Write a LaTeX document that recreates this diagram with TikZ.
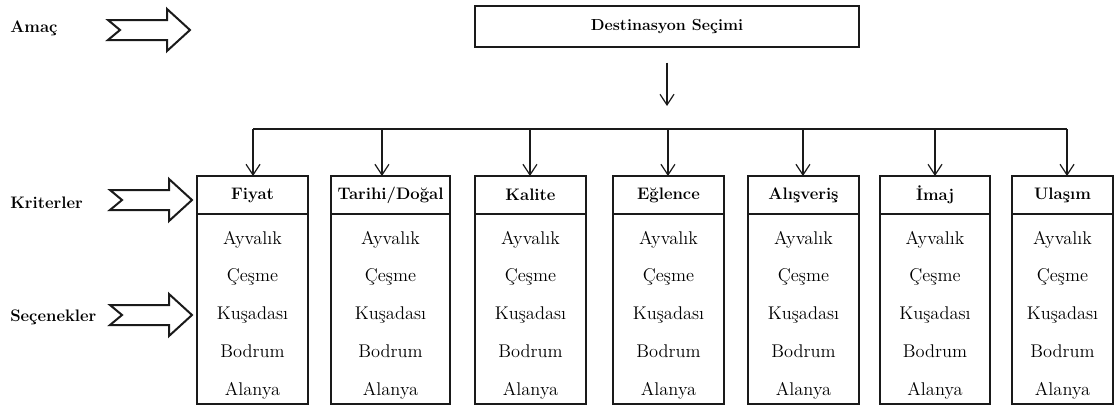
\documentclass[tikz,border=0pt]{standalone}
\usepackage{fontspec}
\usepackage{tikz}
\usetikzlibrary{arrows.meta,positioning,calc}
\definecolor{ACInk}{HTML}{000000}
\definecolor{ACLine}{HTML}{1A1A1A}
\tikzset{
  flow/.style={-{Straight Barb[length=8pt,width=10.5pt]},ACLine,line width=0.9pt},
  busline/.style={ACLine,line width=0.9pt},
  goalbox/.style={draw=ACLine,line width=1pt,minimum width=288pt,minimum height=30.75pt,
                  text=ACInk,font=\fontsize{12}{15}\selectfont\bfseries},
  critbox/.style={draw=ACLine,line width=1pt,minimum height=28.5pt,inner sep=0pt,outer sep=0pt,
                  text=ACInk,font=\fontsize{12.5}{15}\selectfont\bfseries},
  listbox/.style={draw=ACLine,line width=1pt,minimum height=142.5pt,inner sep=0pt,outer sep=0pt},
  city/.style={text=ACInk,font=\fontsize{13.8}{16}\selectfont,inner sep=0pt,
               text height=1.9ex,text depth=.5ex},
  sidelabel/.style={text=ACInk,font=\fontsize{12.5}{15}\selectfont\bfseries,anchor=west,inner sep=0pt},
  fatarrow/.pic={
    \draw[ACLine,line width=1.5pt,line join=miter,fill=white]
      (0,-10) -- (59,-10) -- (59,-21) -- (82,0) -- (59,21) -- (59,10) -- (0,10) -- (12,0) -- cycle;
  },
}
\begin{document}
\begin{tikzpicture}[x=0.75pt,y=-0.75pt]
    \useasboundingbox (0,0) rectangle (1114,405);
    % sol taraf
    \node[sidelabel] (amac) at (10,28) {Amaç};
    \node[sidelabel] (kriter) at (10,203) {Kriterler};
    \node[sidelabel] (secenek) at (10,317) {Seçenekler};
    \pic at (108,30) {fatarrow};
    \pic at (110,200) {fatarrow};
    \pic at (110,315) {fatarrow};
    % hedef
    \node[goalbox] (secim) at (667,26.5) {Destinasyon Seçimi};
    \coordinate (bus) at (667,129);
    \draw[flow] ($(secim.south)+(0,15)$) -- ($(bus)+(0,-23)$);
    % kriterler ve secenekler
    \foreach \nr/\lx/\w/\kr in {1/197/111/Fiyat,2/331/119/{Tarihi/Doğal},3/475/111/Kalite,
        4/613/111/Eğlence,5/748/111/Alışveriş,6/880/110/İmaj,7/1012/101/Ulaşım}{
      \node[critbox,minimum width=\w*0.75pt,anchor=north west] (crit\nr) at (\lx,176) {\kr};
      \node[listbox,minimum width=\w*0.75pt,anchor=north] (list\nr) at (crit\nr.south) {};
      \foreach \city [count=\j] in {Ayvalık,Çeşme,Kuşadası,Bodrum,Alanya}
        \node[city] (c\nr-\j) at ($(list\nr.north)+(0,{26+(\j-1)*37.75})$) {\city};
    }
    \draw[busline] ([xshift=0.4pt]bus -| crit1.north) -- ([xshift=3.4pt]bus -| crit7.north);
    \foreach \nr/\dx in {1/0.4,2/-6.4,3/-0.4,4/-0.4,5/-0.4,6/0,7/3.4}
      \draw[flow] ([xshift=\dx pt]bus -| crit\nr.north) -- ([xshift=\dx pt]crit\nr.north);
  \end{tikzpicture}
\end{document}
